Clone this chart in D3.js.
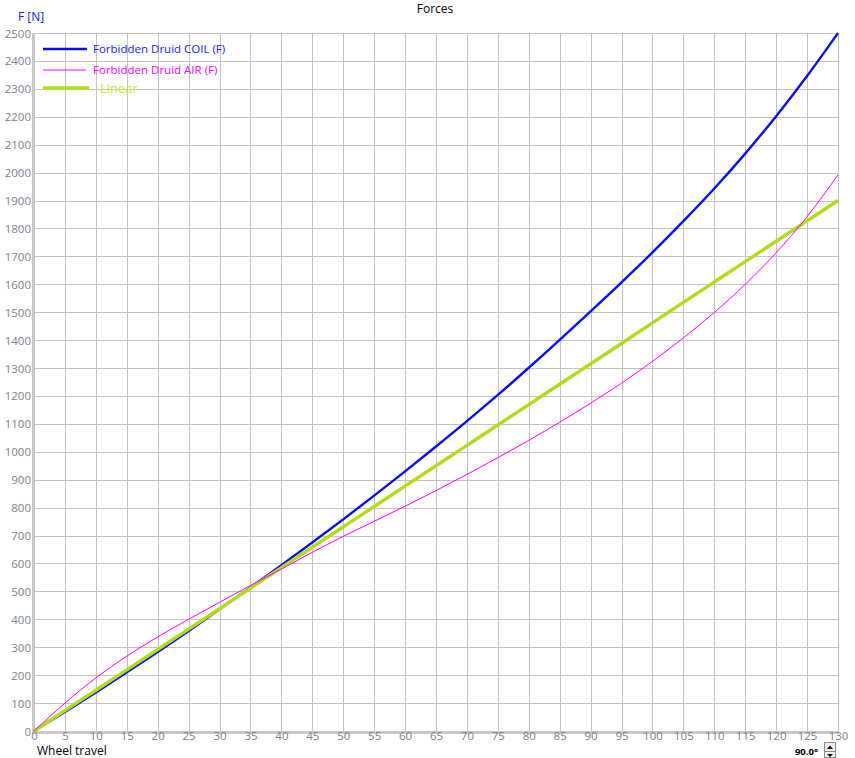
<!DOCTYPE html>
<html>
<head>
<meta charset="utf-8">
<script src="https://cdn.jsdelivr.net/npm/d3@7"></script>
<style>
  html, body { margin: 0; padding: 0; background: #ffffff; }
  svg { display: block; }
  text { font-family: "Open Sans", "Noto Sans", sans-serif; }
</style>
</head>
<body>
<svg id="chart" width="855" height="758"></svg>
<script>
// ---- data ----
const travel = [0,5,10,15,20,25,30,35,40,45,50,55,60,65,70,75,80,85,90,95,100,105,110,115,120,125,130];
const coil   = [0,68,138,210,283,358,436,514,594,675,758,843,930,1019,1110,1204,1301,1401,1503,1607,1714,1826,1943,2068,2202,2346,2500];
const air    = [0,100,190,268,337,400,461,521,580,640,697,751,805,861,919,979,1041,1106,1174,1246,1324,1408,1499,1600,1713,1842,1992];
const linear = [0,73,146,219,292,365,438,512,585,658,731,804,877,950,1023,1096,1169,1242,1315,1388,1462,1535,1608,1681,1754,1827,1900];
const xTicks = [0,5,10,15,20,25,30,35,40,45,50,55,60,65,70,75,80,85,90,95,100,105,110,115,120,125,130];
const yTicks = [0,100,200,300,400,500,600,700,800,900,1000,1100,1200,1300,1400,1500,1600,1700,1800,1900,2000,2100,2200,2300,2400,2500];
const seriesNames = ["Forbidden Druid COIL (F)", "Forbidden Druid AIR (F)", "Linear"];

// ---- layout ----
const svg = d3.select("#chart");
const L = 34, R = 838, T = 33, B = 731;
const x = d3.scaleLinear().domain([0,130]).range([L,R]);
const y = d3.scaleLinear().domain([0,2500]).range([B,T]);
const gridColor = "#c3c3c3";
const tickColor = "#7e7e8c";

// grid
svg.append("g").selectAll("line.v").data(xTicks).join("line")
  .attr("x1", d => Math.round(x(d)) + 0.5).attr("x2", d => Math.round(x(d)) + 0.5)
  .attr("y1", T).attr("y2", B)
  .attr("stroke", gridColor).attr("stroke-width", 1);
svg.append("g").selectAll("line.h").data(yTicks).join("line")
  .attr("x1", L).attr("x2", R + 1)
  .attr("y1", d => Math.round(y(d)) + 0.5).attr("y2", d => Math.round(y(d)) + 0.5)
  .attr("stroke", gridColor).attr("stroke-width", 1);

// axes (thick grey lines)
svg.append("rect").attr("x", L - 2).attr("y", T).attr("width", 3).attr("height", B - T + 3).attr("fill", "#c8c8c8");
svg.append("rect").attr("x", L - 2).attr("y", B).attr("width", R - L + 3).attr("height", 3).attr("fill", "#c8c8c8");

// y tick labels via axis
const yAxis = d3.axisLeft(y).tickValues(yTicks).tickSize(0).tickPadding(0).tickFormat(d3.format("d"));
const gy = svg.append("g").attr("transform", `translate(${L - 3},0)`).call(yAxis);
gy.select(".domain").remove();
gy.selectAll("text").attr("fill", tickColor).style("font-size", "11.5px").attr("dy", "0.35em")
  .style("font-family", "'Open Sans', sans-serif");

// x tick labels via axis
const xAxis = d3.axisBottom(x).tickValues(xTicks).tickSize(0).tickPadding(0).tickFormat(d3.format("d"));
const gx = svg.append("g").attr("transform", `translate(0,${B + 1})`).call(xAxis);
gx.select(".domain").remove();
gx.selectAll("text").attr("fill", tickColor).style("font-size", "11.5px").attr("dy", "0.71em")
  .style("font-family", "'Open Sans', sans-serif");

// lines
const line = d3.line().x((d,i) => x(travel[i])).y(d => y(d)).curve(d3.curveMonotoneX);
svg.append("path").datum(coil).attr("d", line).attr("fill", "none").attr("stroke", "#0a0aee").attr("stroke-width", 2.4);
svg.append("path").datum(linear).attr("d", line).attr("fill", "none").attr("stroke", "#b2dc1a").attr("stroke-width", 3.4);
svg.append("path").datum(air).attr("d", line).attr("fill", "none").attr("stroke", "#ff00ff").attr("stroke-width", 1);

// legend
const legend = [
  {name: seriesNames[0], color: "#0a0aee", w: 2.6, x2: 87, y: 49, tx: 93, tc: "#1a1ae6", fs: 11.5},
  {name: seriesNames[1], color: "#ff00ff", w: 1, x2: 86, y: 70, tx: 93, tc: "#ff00ff", fs: 11.5},
  {name: seriesNames[2], color: "#b2dc1a", w: 3.4, x2: 89, y: 88, tx: 100, tc: "#c8e632", fs: 13}
];
const lg = svg.append("g");
legend.forEach(d => {
  lg.append("line").attr("x1", 43).attr("x2", d.x2).attr("y1", d.y).attr("y2", d.y)
    .attr("stroke", d.color).attr("stroke-width", d.w);
  lg.append("text").attr("x", d.tx).attr("y", d.y).attr("dy", "0.35em")
    .attr("fill", d.tc).style("font-size", d.fs + "px").text(d.name);
});

// titles
svg.append("text").attr("x", 435).attr("y", 13).attr("text-anchor", "middle")
  .attr("fill", "#000").style("font-size", "12px").text("Forces");
svg.append("text").attr("x", 18).attr("y", 21).attr("fill", "#1a1ae6").style("font-size", "12px").text("F [N]");
svg.append("text").attr("x", 37).attr("y", 755).attr("fill", "#000").style("font-size", "12px").text("Wheel travel");

// angle widget
svg.append("text").attr("x", 818).attr("y", 755).attr("text-anchor", "end")
  .attr("fill", "#000").style("font-size", "9.5px").style("font-weight", "bold").text("90.0°");
svg.append("rect").attr("x", 824.5).attr("y", 742.5).attr("width", 11).attr("height", 15)
  .attr("fill", "#f0f0f0").attr("stroke", "#8a8a8a");
svg.append("line").attr("x1", 825).attr("x2", 835).attr("y1", 751.5).attr("y2", 751.5).attr("stroke", "#8a8a8a");
svg.append("path").attr("d", "M827,749 L833,749 L830,745.5 Z").attr("fill", "#000");
svg.append("path").attr("d", "M827,754 L833,754 L830,757 Z").attr("fill", "#000");
</script>
</body>
</html>
